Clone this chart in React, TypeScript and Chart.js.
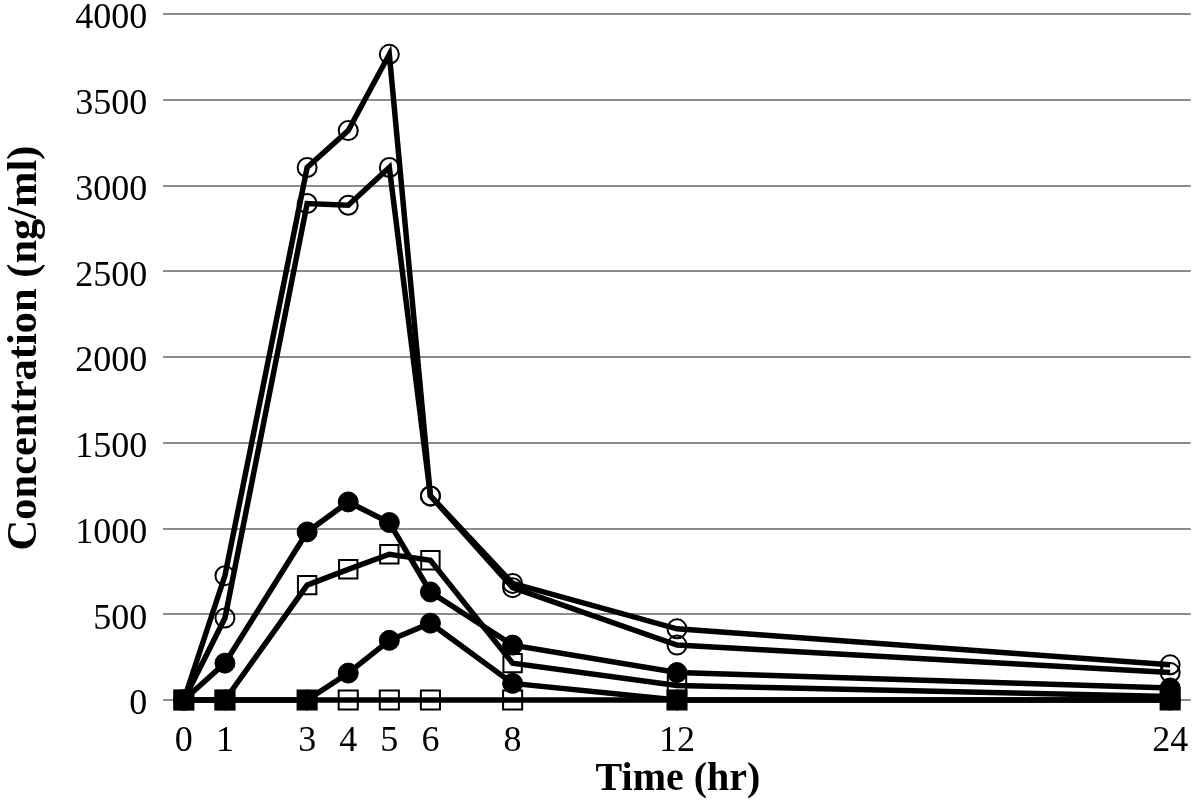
import React, { useEffect, useRef } from 'react';
import { Chart, registerables } from 'chart.js';

Chart.register(...registerables);

// Sampling times (hr) and y tick values
const times = [0, 1, 3, 4, 5, 6, 8, 12, 24];
const yTickValues = [0, 500, 1000, 1500, 2000, 2500, 3000, 3500, 4000];

// Concentration (ng/ml) series
const openCircleHigh = [0, 725, 3105, 3320, 3765, 1190, 680, 415, 205];
const openCircleLow = [0, 478, 2895, 2885, 3105, 1190, 655, 320, 160];
const filledCircleHigh = [0, 215, 980, 1155, 1035, 630, 320, 160, 70];
const openSquareHigh = [0, 0, 670, 762, 850, 815, 215, 85, 20];
const filledCircleLow = [0, 0, 0, 157, 348, 448, 97, 0, 0];
const openSquareLow = [0, 0, 0, 0, 0, 0, 0, 0, 0];

const xTitle = 'Time (hr)';
const yTitle = 'Concentration (ng/ml)';

const SERIF = '"Liberation Serif", "Times New Roman", serif';

const toPoints = (vals: number[]) => vals.map((v, i) => ({ x: times[i], y: v }));

export default function App() {
  const canvasRef = useRef<HTMLCanvasElement | null>(null);

  useEffect(() => {
    const canvas = canvasRef.current;
    if (!canvas) return;

    const titlesPlugin = {
      id: 'axisTitles',
      afterDraw(chart: any) {
        const ctx = chart.ctx;
        const area = chart.chartArea;
        ctx.save();
        ctx.fillStyle = '#000';
        ctx.font = `bold 40px ${SERIF}`;
        ctx.textAlign = 'center';
        ctx.textBaseline = 'middle';
        ctx.fillText(xTitle, (area.left + area.right) / 2 + 1, 780);
        ctx.font = `bold 42.5px ${SERIF}`;
        ctx.translate(25, 348);
        ctx.rotate(-Math.PI / 2);
        ctx.fillText(yTitle, 0, 0);
        ctx.restore();
      },
    };

    const base = {
      showLine: true,
      borderColor: '#000',
      borderWidth: 5.5,
      tension: 0,
      clip: false,
      pointBorderColor: '#000',
      pointHoverRadius: 9,
    };

    const chart = new Chart(canvas, {
      type: 'scatter',
      data: {
        datasets: [
          {
            ...base,
            label: 'openSquareLow',
            data: toPoints(openSquareLow),
            pointStyle: 'rect',
            pointRadius: 13.5,
            pointBorderWidth: 2,
            pointBackgroundColor: (c: any) =>
              filledCircleLow[c.dataIndex] === 0 ? '#000' : 'rgba(255,255,255,0)',
          },
          {
            ...base,
            label: 'filledCircleLow',
            data: toPoints(filledCircleLow),
            pointStyle: 'circle',
            pointRadius: 10,
            pointBorderWidth: 1,
            pointBackgroundColor: '#000',
          },
          {
            ...base,
            label: 'openSquareHigh',
            data: toPoints(openSquareHigh),
            pointStyle: 'rect',
            pointRadius: 13,
            pointBorderWidth: 2,
            pointBackgroundColor: 'rgba(255,255,255,0)',
          },
          {
            ...base,
            label: 'filledCircleHigh',
            data: toPoints(filledCircleHigh),
            pointStyle: 'circle',
            pointRadius: 10,
            pointBorderWidth: 1,
            pointBackgroundColor: '#000',
          },
          {
            ...base,
            label: 'openCircleLow',
            data: toPoints(openCircleLow),
            pointStyle: 'circle',
            pointRadius: 9.5,
            pointBorderWidth: 2,
            pointBackgroundColor: 'rgba(255,255,255,0)',
          },
          {
            ...base,
            label: 'openCircleHigh',
            data: toPoints(openCircleHigh),
            pointStyle: 'circle',
            pointRadius: 9.5,
            pointBorderWidth: 2,
            pointBackgroundColor: 'rgba(255,255,255,0)',
          },
        ],
      } as any,
      options: {
        animation: false,
        responsive: false,
        maintainAspectRatio: false,
        devicePixelRatio: 1,
        layout: { autoPadding: false, padding: { top: 14, right: 9.3, bottom: 0, left: 0 } },
        plugins: {
          legend: { display: false },
          tooltip: { enabled: false },
          title: { display: false },
        },
        scales: {
          x: {
            type: 'linear',
            min: -0.5,
            max: 24.5,
            afterBuildTicks: (axis: any) => {
              axis.ticks = times.map((v) => ({ value: v }));
            },
            afterFit: (axis: any) => {
              axis.height = 102;
              axis.paddingLeft = 0;
              axis.paddingRight = 0;
            },
            grid: { display: false, drawTicks: false },
            border: { display: false },
            ticks: {
              autoSkip: false,
              maxRotation: 0,
              minRotation: 0,
              padding: 20,
              color: '#000',
              font: { family: SERIF, size: 36 },
              callback: (v: any) => String(v),
            },
          },
          y: {
            type: 'linear',
            min: 0,
            max: 4000,
            afterBuildTicks: (axis: any) => {
              axis.ticks = yTickValues.map((v) => ({ value: v }));
            },
            afterFit: (axis: any) => {
              axis.width = 163.3;
              axis.paddingTop = 0;
              axis.paddingBottom = 0;
            },
            grid: { color: '#8c8c8c', lineWidth: 2, drawTicks: false },
            border: { display: false },
            ticks: {
              padding: 16,
              labelOffset: 5,
              color: '#000',
              font: { family: SERIF, size: 36 },
              callback: (v: any) => String(v),
            },
          },
        },
      } as any,
      plugins: [titlesPlugin],
    });

    return () => chart.destroy();
  }, []);

  return (
    <div style={{ position: 'absolute', left: 0, top: 0, width: 1200, height: 802, background: '#fff' }}>
      <canvas ref={canvasRef} width={1200} height={802} style={{ width: 1200, height: 802, display: 'block' }} />
    </div>
  );
}
